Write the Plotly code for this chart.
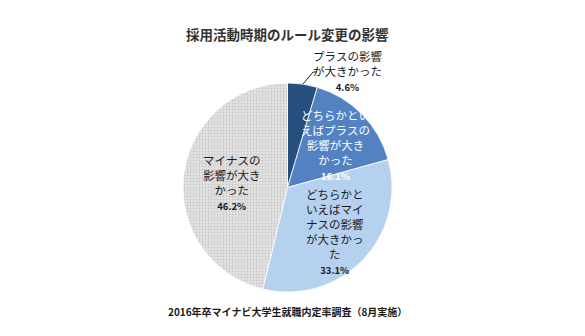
import plotly.graph_objects as go

# Survey answers, in clockwise order from 12 o'clock
categories = [
    "プラスの影響が大きかった",
    "どちらかといえばプラスの影響が大きかった",
    "どちらかといえばマイナスの影響が大きかった",
    "マイナスの影響が大きかった",
]
shares = [4.6, 16.1, 33.1, 46.2]
# Wrapped label lines for each slice
label_lines = [
    ["プラスの影響", "が大きかった"],
    ["どちらかとい", "えばプラスの", "影響が大き", "かった"],
    ["どちらかと", "いえばマイ", "ナスの影響", "が大きかっ", "た"],
    ["マイナスの", "影響が大き", "かった"],
]
slice_colors = ["#264F7E", "#5282C1", "#B6D1F0", "#E4E4E4"]
label_colors = ["#1A1A1A", "#FFFFFF", "#1A1A1A", "#1A1A1A"]

title_text = "採用活動時期のルール変更の影響"
source_text = "2016年卒マイナビ大学生就職内定率調査（8月実施）"

W, H = 585, 336
JP = "Noto Sans CJK JP"


def px(x, y):
    return x / W, 1 - y / H


fig = go.Figure()
fig.add_trace(go.Pie(
    labels=categories,
    values=shares,
    sort=False,
    direction="clockwise",
    rotation=0,
    textinfo="none",
    hoverinfo="label+percent",
    marker=dict(
        colors=slice_colors,
        line=dict(color="#FFFFFF", width=0.8),
        pattern=dict(
            shape=["", "", "", "."],
            fgcolor="#C6C6C6",
            bgcolor=slice_colors,
            size=3,
            solidity=0.3,
        ),
    ),
    domain=dict(x=[183 / W, 392 / W], y=[1 - 292 / H, 1 - 83 / H]),
))

# Label anchor points (pixel centre of each text block)
label_pos = [(347, 71), (335, 145), (335, 231), (232, 183)]

annotations = []
for lines, val, color, (lx, ly) in zip(label_lines, shares, label_colors, label_pos):
    text = "<br>".join(lines) + f"<br><b><span style='font-size:9.5px'>{val}%</span></b>"
    ax, ay = px(lx, ly)
    annotations.append(dict(
        x=ax, y=ay, xref="paper", yref="paper",
        text=text, showarrow=False,
        font=dict(family=JP, size=11.5, color=color),
        align="center", xanchor="center", yanchor="middle",
    ))

tx, ty = px(287, 34)
annotations.append(dict(
    x=tx, y=ty, xref="paper", yref="paper",
    text=f"<b>{title_text}</b>", showarrow=False,
    font=dict(family=JP, size=13.5, color="#333333"),
    xanchor="center", yanchor="middle",
))
sx, sy = px(287, 311)
annotations.append(dict(
    x=sx, y=sy, xref="paper", yref="paper",
    text=f"<b>{source_text}</b>", showarrow=False,
    font=dict(family=JP, size=10, color="#1A1A1A"),
    xanchor="center", yanchor="middle",
))

# Leader line for the small slice label
x0, y0 = px(303, 84)
x1, y1 = px(313, 72)
x2, y2 = px(317, 72)
shapes = [dict(
    type="path", xref="paper", yref="paper",
    path=f"M {x0} {y0} L {x1} {y1} L {x2} {y2}",
    line=dict(color="#222222", width=1),
)]

fig.update_layout(
    width=W, height=H,
    margin=dict(l=0, r=0, t=0, b=0),
    paper_bgcolor="#FFFFFF",
    plot_bgcolor="#FFFFFF",
    showlegend=False,
    annotations=annotations,
    shapes=shapes,
)

fig.write_html("out.html")
